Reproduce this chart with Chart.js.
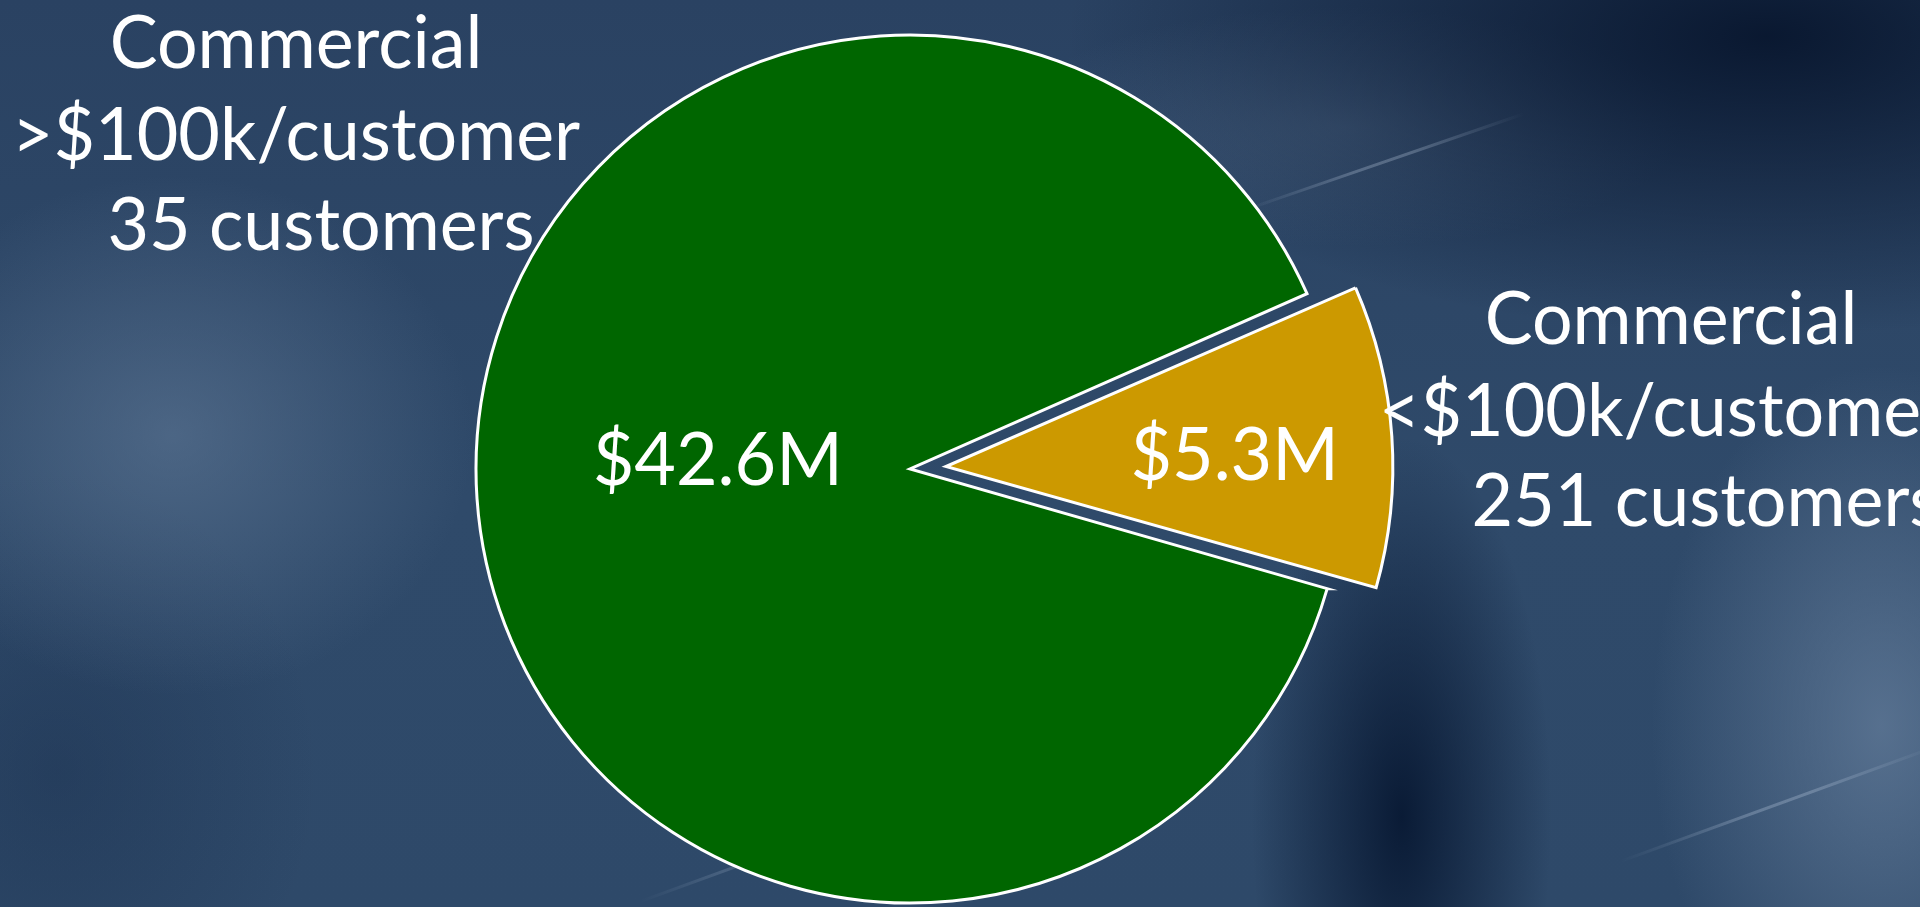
<!DOCTYPE html>
<html>
<head>
<meta charset="utf-8">
<title>Commercial revenue split</title>
<script src="https://cdn.jsdelivr.net/npm/chart.js@4.4.1/dist/chart.umd.min.js"></script>
<style>
  html, body { margin: 0; padding: 0; width: 1920px; height: 907px; overflow: hidden; }
  body {
    background:
      radial-gradient(ellipse 300px 260px at 9% 48%, rgba(100,125,155,0.55), transparent),
      radial-gradient(ellipse 260px 300px at 3% 85%, rgba(20,40,70,0.35), transparent),
      radial-gradient(ellipse 700px 300px at 92% 4%, rgba(8,22,46,0.95), transparent),
      radial-gradient(ellipse 340px 120px at 70% 14%, rgba(95,120,150,0.40), transparent),
      radial-gradient(ellipse 150px 380px at 73% 90%, rgba(6,22,48,0.9), transparent),
      radial-gradient(ellipse 230px 360px at 98% 80%, rgba(100,125,155,0.75), transparent),
      linear-gradient(180deg, #2a4262 0%, #2f4a6a 55%, #2e4969 100%);
  }
  #wrap { position: relative; width: 1920px; height: 907px; }
  .streak {
    position: absolute; height: 3px;
    background: linear-gradient(90deg, transparent, rgba(200,215,235,0.28) 40%, rgba(200,215,235,0.28) 60%, transparent);
    transform-origin: 0 0;
  }
  canvas { position: absolute; left: 0; top: 0; }
</style>
</head>
<body>
<div id="wrap">
  <div class="streak" style="left:1240px; top:210px; width:300px; transform:rotate(-19deg);"></div>
  <div class="streak" style="left:1620px; top:860px; width:340px; transform:rotate(-20deg);"></div>
  <div class="streak" style="left:640px; top:900px; width:220px; transform:rotate(-20deg); opacity:0.6;"></div>
  <canvas id="revenueChart" width="1920" height="907"></canvas>
</div>
<script>
// revenue split of commercial customers
const segments = ['>$100k/customer', '<$100k/customer'];
const customerCounts = [35, 251];
const revenueM = [42.6, 5.3]; // $ millions

const FONT = '74px Lato';
const TEXT_SCALE_X = 0.97; // source font is Calibri, a touch narrower

function drawText(ctx, text, x, y) {
  ctx.save();
  ctx.translate(x, y);
  ctx.scale(TEXT_SCALE_X, 1);
  ctx.fillText(text, 0, 0);
  ctx.restore();
}

// value labels inside the slices + category captions next to the pie
const sliceLabels = {
  id: 'sliceLabels',
  afterDatasetsDraw(chart) {
    const ctx = chart.ctx;
    const arcs = chart.getDatasetMeta(0).data;
    const cx = arcs[0].x, cy = arcs[0].y, r = arcs[0].outerRadius;
    // where each value sits, as fraction of the radius from the centre (baseline)
    const spots = [[-0.443, 0.036], [0.748, 0.026]];

    ctx.save();
    ctx.fillStyle = '#ffffff';
    ctx.font = FONT;
    ctx.textAlign = 'center';
    ctx.textBaseline = 'alphabetic';

    revenueM.forEach((v, i) => {
      drawText(ctx, '$' + v.toFixed(1) + 'M', cx + spots[i][0] * r, cy + spots[i][1] * r);
    });

    // captions: left block for the big slice, right block for the small one
    const blocks = [
      { x: [296, 296, 321], y: [68, 160, 250] },
      { x: [1671, 1663, 1706], y: [344, 436, 526] }
    ];
    segments.forEach((seg, i) => {
      const lines = ['Commercial', seg, customerCounts[i] + ' customers'];
      lines.forEach((t, j) => drawText(ctx, t, blocks[i].x[j], blocks[i].y[j]));
    });
    ctx.restore();
  }
};

const ctx = document.getElementById('revenueChart');
new Chart(ctx, {
  type: 'pie',
  data: {
    labels: segments,
    datasets: [{
      data: revenueM,
      backgroundColor: ['#006600', '#cc9900'],
      borderColor: '#ffffff',
      borderWidth: 3,
      borderJoinStyle: 'miter',
      offset: [0, 144],
      radius: 434
    }]
  },
  options: {
    responsive: false,
    animation: false,
    rotation: 106,
    layout: { padding: { left: 0, right: 100, top: 31, bottom: 0 } },
    plugins: {
      legend: { display: false },
      tooltip: { enabled: false }
    }
  },
  plugins: [sliceLabels]
});
</script>
</body>
</html>
